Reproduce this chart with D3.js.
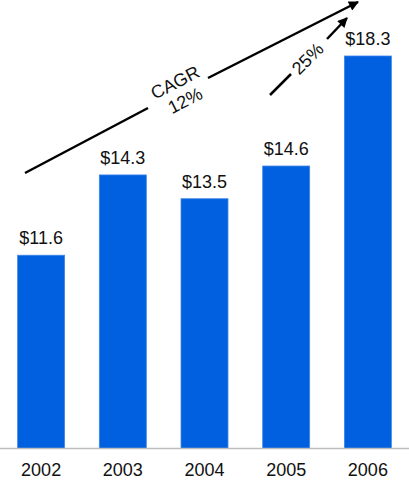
<!DOCTYPE html>
<meta charset="utf-8">
<style>
body { margin: 0; background: #fff; }
text { font-family: "Liberation Sans", Arial, sans-serif; fill: #111; }
</style>
<body></body>
<script src="https://cdnjs.cloudflare.com/ajax/libs/d3/7.8.5/d3.min.js"></script>
<script>
var years = ["2002", "2003", "2004", "2005", "2006"];
var values = [11.6, 14.3, 13.5, 14.6, 18.3];
var valueLabels = ["$11.6", "$14.3", "$13.5", "$14.6", "$18.3"];

var width = 409, height = 481, baseY = 448.5;

var svg = d3.select("body").append("svg")
    .attr("width", width)
    .attr("height", height);

var xScale = d3.scaleBand().domain(years)
    .range([0, 409])
    .paddingInner(0.425)
    .paddingOuter(0.216);
var yScale = d3.scaleLinear().domain([5.1, 18.3]).range([baseY, 56]);

// bars
svg.selectAll(".bar")
    .data(values)
    .enter().append("rect")
    .attr("class", "bar")
    .attr("x", function(d, i) { return xScale(years[i]); })
    .attr("width", xScale.bandwidth())
    .attr("y", function(d) { return yScale(d); })
    .attr("height", function(d) { return baseY - yScale(d); })
    .attr("fill", "#0060df")
    .attr("stroke", "#3f86e8")
    .attr("stroke-width", 0.8);

// baseline
svg.append("line")
    .attr("x1", 0).attr("x2", width)
    .attr("y1", baseY).attr("y2", baseY)
    .attr("stroke", "#bdbdbd")
    .attr("stroke-width", 1.5);

// value labels
svg.selectAll(".val")
    .data(values)
    .enter().append("text")
    .attr("class", "val")
    .attr("x", function(d, i) { return xScale(years[i]) + xScale.bandwidth() / 2; })
    .attr("y", function(d) { return yScale(d) - 11; })
    .attr("text-anchor", "middle")
    .style("font-size", "18px")
    .text(function(d, i) { return valueLabels[i]; });

// year labels
svg.selectAll(".yr")
    .data(years)
    .enter().append("text")
    .attr("class", "yr")
    .attr("x", function(d) { return xScale(d) + xScale.bandwidth() / 2; })
    .attr("y", 476)
    .attr("text-anchor", "middle")
    .style("font-size", "18px")
    .text(function(d) { return d; });

// arrows
svg.append("defs").append("marker")
    .attr("id", "head")
    .attr("viewBox", "0 0 10 10")
    .attr("refX", 9).attr("refY", 5)
    .attr("markerWidth", 4.5).attr("markerHeight", 4)
    .attr("markerUnits", "strokeWidth")
    .attr("orient", "auto")
  .append("path")
    .attr("d", "M0,0L10,5L0,10Z")
    .attr("fill", "#000");

function seg(x1, y1, x2, y2, arrow) {
  var l = svg.append("line")
      .attr("x1", x1).attr("y1", y1).attr("x2", x2).attr("y2", y2)
      .attr("stroke", "#000").attr("stroke-width", 2.5);
  if (arrow) l.attr("marker-end", "url(#head)");
}

seg(25, 173, 148, 108, false);
seg(208, 78, 358, 2, true);
seg(270, 95, 291, 74, false);
seg(327, 39, 347, 18, true);

svg.append("text")
    .attr("transform", "translate(178,88) rotate(-27)")
    .attr("text-anchor", "middle")
    .style("font-size", "18px")
    .text("CAGR");
svg.append("text")
    .attr("transform", "translate(188,106) rotate(-27)")
    .attr("text-anchor", "middle")
    .style("font-size", "18px")
    .text("12%");
svg.append("text")
    .attr("transform", "translate(312,63) rotate(-45)")
    .attr("text-anchor", "middle")
    .style("font-size", "18px")
    .text("25%");
</script>
